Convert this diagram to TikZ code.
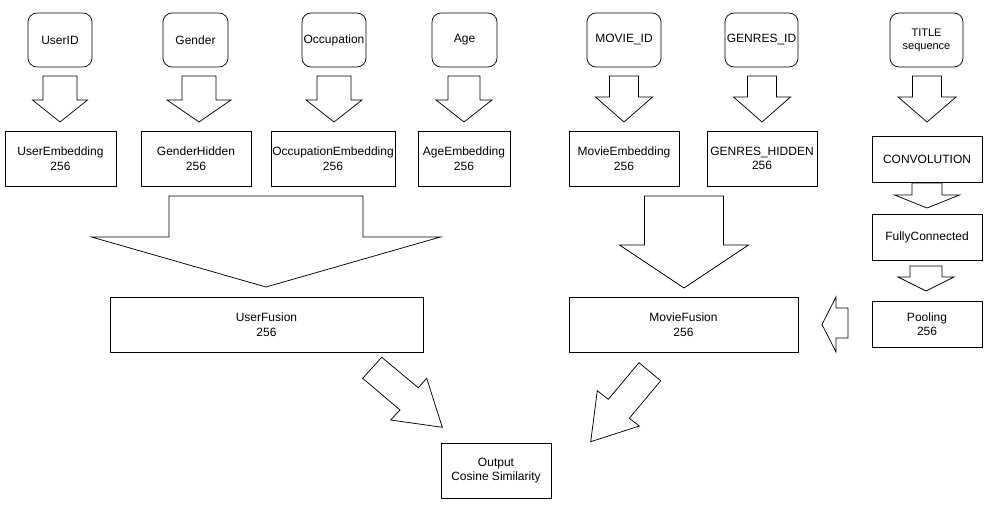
\documentclass[tikz,border=0pt]{standalone}
\usepackage{fontspec}
\setmainfont{Liberation Sans}
\begin{document}
\begin{tikzpicture}[x=1pt,y=-1pt,
  box/.style={draw=black,line width=0.75pt,fill=white,inner sep=0pt,align=center,font=\fontsize{12}{14.5}\selectfont},
  rbox/.style={box,rounded corners=9pt},
  barrow/.style={draw=black,line width=0.75pt,fill=white,line join=miter}]
\useasboundingbox[fill=white] (0,0) rectangle (995,508);
\newcommand\bdown[6]{%
  \draw[barrow] (#1-#5,#2) -- (#1+#5,#2) -- (#1+#5,#3) -- (#1+#6,#3) -- (#1,#4) -- (#1-#6,#3) -- (#1-#5,#3) -- cycle;}
% top inputs
\node[rbox,minimum width=64pt,minimum height=54pt] (uid) at (60,40) {UserID};
\node[rbox,minimum width=65pt,minimum height=54pt] (gen) at (195.5,40) {Gender};
\node[rbox,minimum width=64pt,minimum height=54pt] (occ) at (334,40) {Occupation};
\node[rbox,minimum width=65pt,minimum height=54pt] (age) at (464.5,40) {Age};
\node[rbox,minimum width=74pt,minimum height=54pt] (mid) at (624,40) {MOVIE\_ID};
\node[rbox,minimum width=73pt,minimum height=54pt] (gid) at (761.5,40) {GENRES\_ID};
\node[rbox,minimum width=73pt,minimum height=54pt,font=\fontsize{11}{13}\selectfont] (tit) at (926.5,40) {TITLE\\sequence};
% second row
\node[box,minimum width=111pt,minimum height=55pt] (ue) at (60.5,158.5) {UserEmbedding\\256};
\node[box,minimum width=110pt,minimum height=55pt] (gh) at (196,158.5) {GenderHidden\\256};
\node[box,minimum width=124pt,minimum height=55pt] (oe) at (333,158.5) {OccupationEmbedding\\256};
\node[box,minimum width=92pt,minimum height=55pt] (ae) at (464,158.5) {AgeEmbedding\\256};
\node[box,minimum width=110pt,minimum height=55pt] (me) at (624,158.5) {MovieEmbedding\\256};
\node[box,minimum width=110pt,minimum height=55pt] (ge) at (762,158.5) {GENRES\_HIDDEN\\256};
\node[box,minimum width=110pt,minimum height=46pt] (conv) at (927,159) {CONVOLUTION};
\node[box,minimum width=110pt,minimum height=46pt] (fc) at (927,237) {FullyConnected};
\node[box,minimum width=110pt,minimum height=46pt] (pool) at (927,324) {Pooling\\256};
\node[box,minimum width=313pt,minimum height=55pt] (uf) at (266.5,324.5) {UserFusion\\256};
\node[box,minimum width=229pt,minimum height=55pt] (mf) at (683.5,324.5) {MovieFusion\\256};
\node[box,minimum width=110pt,minimum height=55pt] (out) at (496,470.5) {Output\\Cosine Similarity};
% block arrows
\bdown{60}{76}{100}{122}{17}{27.5}
\bdown{199}{76}{100}{122}{17}{32}
\bdown{334}{76}{100}{122}{17}{28}
\bdown{464}{76}{100}{122}{16}{28}
\bdown{624}{76}{97}{122}{14.5}{28.5}
\bdown{762}{76}{97}{122}{14.5}{28.5}
\bdown{927}{76}{97}{122}{14.5}{29}
\bdown{927}{183}{195}{208}{15}{32.5}
\bdown{926}{266}{277}{291}{16}{28}
\bdown{266}{196}{237}{287}{97}{174.5}
\bdown{684}{196}{245}{288}{39.5}{64.5}
% pooling -> movie fusion
\draw[barrow] (848,308) -- (836,308) -- (836,297) -- (822,324.5) -- (836,352) -- (836,338) -- (848,338) -- cycle;
% fusions -> output
\draw[barrow] (381.7,357.3) -- (418.3,387.7) -- (426.7,378.3) -- (442.3,427.3) -- (390.7,420) -- (400,410) -- (362.7,378.3) -- cycle;
\draw[barrow] (639,362.7) -- (660.7,380.7) -- (629.3,418.3) -- (639.3,426) -- (590.7,441.7) -- (597.3,390.7) -- (608.3,399.3) -- cycle;
\end{tikzpicture}
\end{document}
